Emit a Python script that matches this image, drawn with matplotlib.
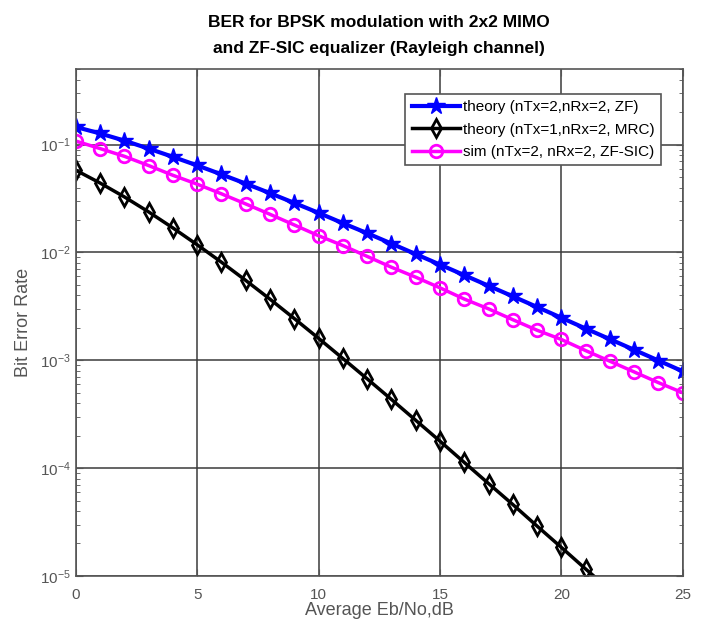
import numpy as np
import matplotlib
matplotlib.use("Agg")
import matplotlib.pyplot as plt
from matplotlib.ticker import LogLocator, NullFormatter

plt.rcParams['font.family'] = ['Liberation Sans Narrow', 'Liberation Sans', 'DejaVu Sans']

# Eb/No axis (dB)
eb_n0_db = list(range(0, 26))

# theory ZF, nTx=2 nRx=2
ber_theory_zf = [0.146, 0.127, 0.109, 0.0919, 0.0771, 0.0642, 0.0530, 0.0435,
                 0.0355, 0.0288, 0.0233, 0.0187, 0.0151, 0.0121, 0.00966,
                 0.00772, 0.00616, 0.00491, 0.00392, 0.00312, 0.00248,
                 0.00197, 0.00157, 0.00125, 0.000994, 0.00079]

# theory MRC, nTx=1 nRx=2
ber_theory_mrc = [0.0580, 0.0441, 0.0328, 0.0238, 0.0169, 0.0118, 0.00813,
                  0.00551, 0.00369, 0.00244, 0.00160, 0.00104, 0.000674,
                  0.000434, 0.000278, 0.000178, 0.000113, 7.2e-05, 4.6e-05,
                  2.9e-05, 1.84e-05, 1.16e-05, 7.4e-06, 4.7e-06, 3.0e-06,
                  1.9e-06]

# simulated ZF-SIC, nTx=2 nRx=2
ber_sim_zfsic = [0.108, 0.092, 0.078, 0.064, 0.052, 0.043, 0.035, 0.0282,
                 0.0226, 0.0180, 0.0143, 0.0116, 0.0092, 0.0073, 0.0059,
                 0.0047, 0.0037, 0.0030, 0.00238, 0.00190, 0.00156, 0.00123,
                 0.00098, 0.00078, 0.00062, 0.00050]

labels = ['theory (nTx=2,nRx=2, ZF)',
          'theory (nTx=1,nRx=2, MRC)',
          'sim (nTx=2, nRx=2, ZF-SIC)']

fig = plt.figure(figsize=(7.01, 6.24), dpi=100)
ax = fig.add_axes([0.108, 0.077, 0.866, 0.812])

ax.semilogy(eb_n0_db, ber_theory_zf, '-', color='#0000ff', lw=3,
            marker='*', ms=13, label=labels[0])
ax.semilogy(eb_n0_db, ber_theory_mrc, '-', color='black', lw=2.5,
            marker='d', ms=9, mfc='none', mew=2, label=labels[1])
ax.semilogy(eb_n0_db, ber_sim_zfsic, '-', color='#ff00ff', lw=2.5,
            marker='o', ms=9, mfc='none', mew=2, label=labels[2])

ax.set_xlim(0, 25)
ax.set_ylim(1e-5, 0.5)
ax.set_xticks([0, 5, 10, 15, 20, 25])
ax.yaxis.set_major_locator(LogLocator(base=10, numticks=10))
ax.yaxis.set_minor_locator(LogLocator(base=10, subs=np.arange(2, 10), numticks=10))
ax.yaxis.set_minor_formatter(NullFormatter())

ax.grid(True, which='major', color='#3a3a3a', lw=1.1, ls='-')
ax.tick_params(which='both', direction='in', top=True, right=True,
               colors='#555555', labelsize=11)
ax.tick_params(which='major', length=5)
ax.tick_params(which='minor', length=3)
ax.tick_params(axis='x', pad=9)
for s in ax.spines.values():
    s.set_color('#555555')
    s.set_linewidth(1.2)

ax.set_xlabel('Average Eb/No,dB', fontsize=13, color='#555555', labelpad=0)
ax.set_ylabel('Bit Error Rate', fontsize=13, color='#555555', labelpad=6)
ax.set_title('BER for BPSK modulation with 2x2 MIMO\nand ZF-SIC equalizer (Rayleigh channel)',
             fontsize=12.5, fontweight='bold', linespacing=1.9, pad=12)

leg = ax.legend(loc='upper right', bbox_to_anchor=(0.972, 0.96), fontsize=11,
                handlelength=3.2, fancybox=False, framealpha=1,
                borderaxespad=0.3, handletextpad=0.2, labelspacing=0.55)
leg.get_frame().set_edgecolor('#555555')
leg.get_frame().set_linewidth(1.2)

fig.savefig('out.png', dpi=100)
